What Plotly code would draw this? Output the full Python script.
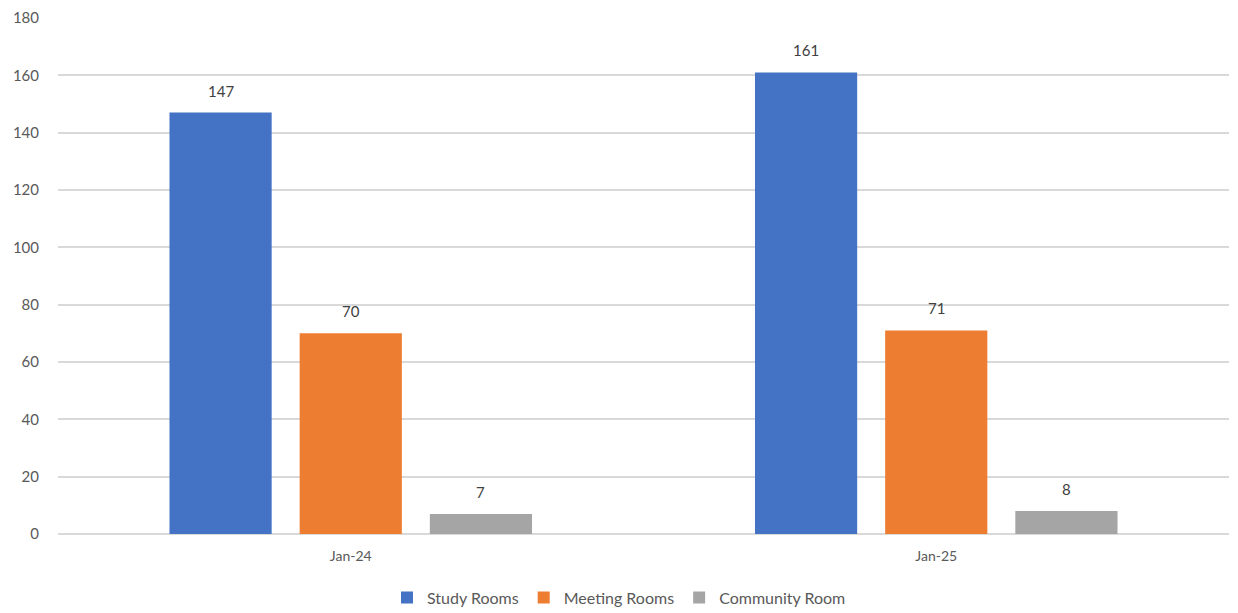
import plotly.graph_objects as go

# Room bookings by month
months = ["Jan-24", "Jan-25"]
series_names = ["Study Rooms", "Meeting Rooms", "Community Room"]
study_rooms = [147, 161]
meeting_rooms = [70, 71]
community_room = [7, 8]
series_values = [study_rooms, meeting_rooms, community_room]
colors = ["#4472C4", "#ED7D31", "#A5A5A5"]
y_ticks = [0, 20, 40, 60, 80, 100, 120, 140, 160, 180]

FONT = "Lato, Open Sans, sans-serif"
BARGAP = 0.333
BARGROUPGAP = 0.215

fig = go.Figure()
for name, vals, col in zip(series_names, series_values, colors):
    fig.add_trace(go.Bar(
        name=name, x=months, y=vals,
        marker=dict(color=col, line=dict(width=0)),
    ))

# Value labels above each bar
slot = (1 - BARGAP) / len(series_names)
for j, vals in enumerate(series_values):
    for i, v in enumerate(vals):
        fig.add_annotation(
            x=i + (j - (len(series_names) - 1) / 2) * slot, y=v,
            xref="x", yref="y", text=str(v), showarrow=False,
            yanchor="bottom", yshift=11,
            font=dict(family=FONT, size=15, color="#404040"),
        )

fig.update_layout(
    width=1238, height=613,
    paper_bgcolor="white", plot_bgcolor="white",
    margin=dict(l=58, r=9, t=18, b=79, autoexpand=False),
    barmode="group", bargap=BARGAP, bargroupgap=BARGROUPGAP,
    font=dict(family=FONT, size=15, color="#595959"),
    showlegend=True,
    legend=dict(
        orientation="h", x=0.5, xanchor="center",
        xref="container", yref="container", y=0.025, yanchor="middle",
        font=dict(family=FONT, size=16, color="#595959"),
        itemwidth=30, traceorder="normal",
    ),
)
fig.update_xaxes(
    showgrid=False, showline=False, ticks="", ticklen=0,
    ticklabelstandoff=12,
    tickfont=dict(family=FONT, size=14, color="#595959"),
)
fig.update_yaxes(
    range=[0, 180], tickvals=y_ticks, showgrid=True,
    gridcolor="#D9D9D9", gridwidth=1.5, zeroline=True,
    zerolinecolor="#D9D9D9", zerolinewidth=1.5,
    ticks="", ticklabelstandoff=18,
    tickfont=dict(family=FONT, size=15, color="#595959"),
)

fig.write_html("out.html")
